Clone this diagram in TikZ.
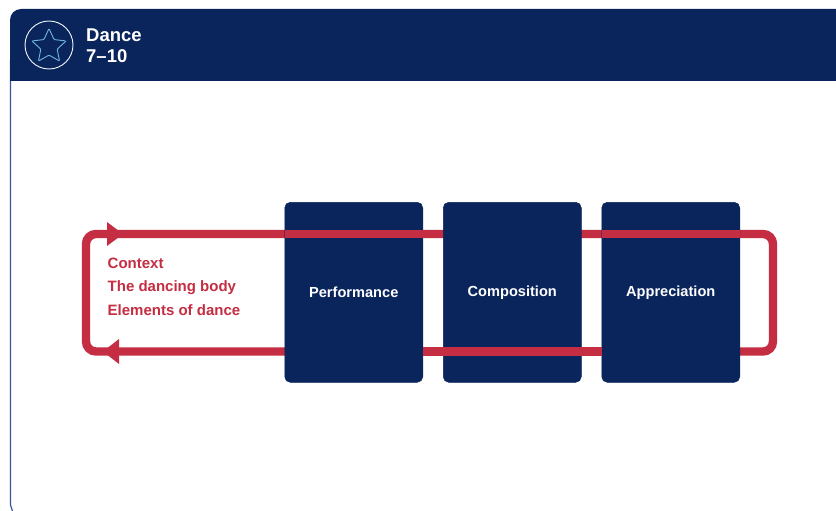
\documentclass[tikz,border=0pt]{standalone}
\usepackage{fontspec}
\usetikzlibrary{shapes.geometric}
\setmainfont{Liberation Sans}
\definecolor{navy}{HTML}{0A245C}
\definecolor{crim}{HTML}{C42D42}
\definecolor{sky}{HTML}{6EB6E0}
\definecolor{edgeblue}{HTML}{3A5594}
\tikzset{
  panelbox/.style={draw=navy,fill=navy,rounded corners=5.5pt,minimum width=138pt,minimum height=180pt,inner sep=0pt,line width=0.5pt,
    text=white,font=\bfseries\fontsize{14.6}{17}\selectfont},
  loopline/.style={draw=crim,line width=8.4pt,rounded corners=10pt},
  seg/.style={draw=crim,line width=8.4pt},
  headtip/.style={fill=crim,draw=none},
  redtext/.style={text=crim,font=\bfseries\fontsize{15}{23.3}\selectfont,align=left,anchor=north west,inner sep=0pt},
}
\begin{document}
\begin{tikzpicture}[x=1pt,y=-1pt]
\useasboundingbox (0,0) rectangle (836,511);
\fill[white] (0,0) rectangle (836,511);
% outer frame
\draw[edgeblue,line width=1.2pt] (10.5,60) -- (10.5,505) -- (12.5,511);
\fill[navy] (10,81) -- (10,20) arc[start angle=180,end angle=90,radius=11pt] -- (836,9) -- (836,81) -- cycle;
% badge
\node[draw=white!90!sky,line width=0.9pt,circle,minimum size=48pt,inner sep=0pt] (badge) at (49,45) {};
\node[draw=sky,line width=0.9pt,star,star points=5,star point ratio=2.1,minimum size=36pt,inner sep=0pt,rounded corners=1pt] (starshape) at (49,46.5) {};
\node[text=white,font=\bfseries\fontsize{18.5}{21}\selectfont,align=left,anchor=west,inner sep=0pt] (title) at (86,46) {Dance\\7–10};
% loop coordinates
\coordinate (tl) at (86,234);
\coordinate (tr) at (773,234);
\coordinate (br) at (773,351.5);
\coordinate (bl) at (86,351.5);
\coordinate (topa) at (284.5,234);
\coordinate (bota) at (423,351.5);
% whole loop below the boxes
\draw[loopline] (tl) -- (tr) -- (br) -- (bl) -- cycle;
% boxes
\node[panelbox] (perf) at (353.75,292.3) {Performance};
\node[panelbox] (comp) at (512.25,292.3) {Composition};
\node[panelbox] (appr) at (670.75,292.3) {Appreciation};
% segments passing in front
\path[seg] (perf.west |- topa) -- (comp.west |- topa);
\path[seg] (appr.west |- topa) -- (appr.east |- topa);
\path[seg] (perf.east |- bota) -- (appr.west |- bota);
% arrowheads
\path[headtip] (107,222) -- (123,234) -- (107,246) -- cycle;
\path[headtip] (119,339) -- (103,351.5) -- (119,364) -- cycle;
% label
\node[redtext] (ctx) at (107.5,258) {Context\\The dancing body\\Elements of dance};
\end{tikzpicture}
\end{document}
